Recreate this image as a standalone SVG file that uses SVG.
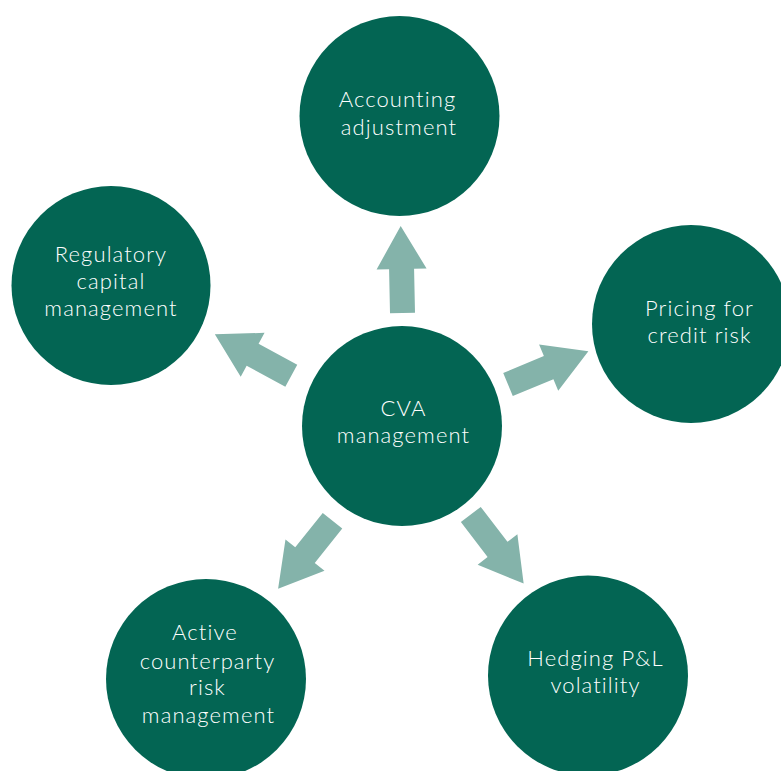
<svg xmlns="http://www.w3.org/2000/svg" width="781" height="771" viewBox="0 0 781 771">
  <defs>
    <style>
      .node { fill: #036553; }
      .label { fill: #ffffff; font-family: Lato, "Open Sans", "Liberation Sans", sans-serif; font-size: 22px; font-weight: 300; letter-spacing: 1.1px; text-anchor: middle; }
      .arrow { fill: #84B3AA; }
    </style>
    <!-- block arrow pointing along +x, tail at the origin -->
    <path id="blockArrow" d="M0,-12.5 L44,-12.5 L44,-25 L87,0 L44,25 L44,12.5 L0,12.5 Z"/>
  </defs>
  <rect width="781" height="771" fill="#ffffff"/>

  <g id="connectors" class="arrow">
    <use href="#blockArrow" transform="translate(402.5,313) rotate(-91.2)"/>
    <use href="#blockArrow" transform="translate(508,384.5) rotate(-22.5)"/>
    <use href="#blockArrow" transform="translate(291.3,375.8) rotate(208.5)"/>
    <use href="#blockArrow" transform="translate(332.5,520.8) rotate(128.7)"/>
    <use href="#blockArrow" transform="translate(470.8,514.5) rotate(52.6)"/>
  </g>

  <g id="cva-management">
    <circle class="node" cx="402" cy="426" r="100"/>
    <text class="label" x="403.5" y="416">CVA</text>
    <text class="label" x="403.5" y="443">management</text>
  </g>

  <g id="accounting-adjustment">
    <circle class="node" cx="399.5" cy="116" r="100"/>
    <text class="label" x="397.5" y="107">Accounting</text>
    <text class="label" x="399" y="135">adjustment</text>
  </g>

  <g id="pricing-credit-risk">
    <circle class="node" cx="691" cy="324" r="99"/>
    <text class="label" x="699.5" y="316">Pricing for</text>
    <text class="label" x="699.5" y="343">credit risk</text>
  </g>

  <g id="regulatory-capital">
    <circle class="node" cx="111" cy="285.5" r="99.5"/>
    <text class="label" x="111" y="262">Regulatory</text>
    <text class="label" x="111" y="288.5">capital</text>
    <text class="label" x="111" y="316">management</text>
  </g>

  <g id="active-counterparty-risk">
    <circle class="node" cx="206" cy="679" r="100"/>
    <text class="label" x="205" y="639.5">Active</text>
    <text class="label" x="207.5" y="668.5">counterparty</text>
    <text class="label" x="207.5" y="695">risk</text>
    <text class="label" x="208.5" y="722.5">management</text>
  </g>

  <g id="hedging-pl-volatility">
    <circle class="node" cx="588" cy="675.5" r="100"/>
    <text class="label" x="595.5" y="666">Hedging P&amp;L</text>
    <text class="label" x="595.5" y="693">volatility</text>
  </g>
</svg>
